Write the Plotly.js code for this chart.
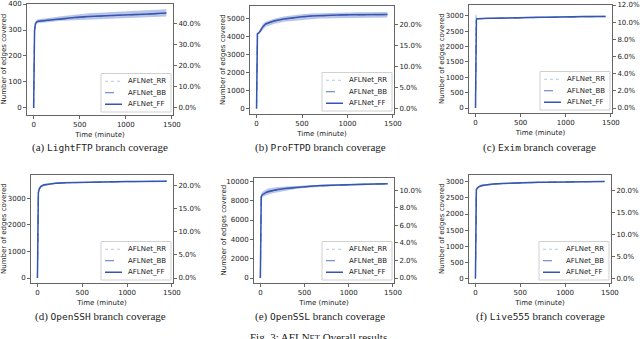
<!DOCTYPE html>
<html>
<head>
<meta charset="utf-8">
<script src="https://cdn.plot.ly/plotly-3.0.1.min.js"></script>
<style>
  html, body { margin: 0; padding: 0; background: #fff; }
  #fig { width: 640px; height: 339px; }
</style>
</head>
<body>
<div id="fig"></div>
<script>
// sample times (minutes) shared by all runs
const minutes = [0, 2, 5, 10, 20, 40, 70, 100, 150, 200, 300, 400, 500, 600, 700, 800, 900, 1000, 1100, 1200, 1300, 1440];

// LightFTP
const lightftpRR = [0, 160, 260, 305, 327, 334, 336, 337, 339, 341, 346, 349, 351, 353, 355, 356, 358, 359, 361, 362, 364, 366];
const lightftpBB = [0, 140, 240, 295, 322, 331, 334, 335, 337, 339, 343, 346, 349, 351, 353, 354, 356, 357, 359, 360, 362, 364];
const lightftpFF = [0, 150, 250, 300, 325, 333, 335, 336, 338, 340, 345, 348, 350, 352, 354, 355, 357, 358, 360, 361, 363, 365];
const lightftpLo = [0, 110, 220, 280, 315, 326, 329, 330, 331, 332, 336, 338, 340, 341, 343, 344, 345, 346, 347, 349, 350, 352];
const lightftpHi = [0, 190, 280, 315, 333, 340, 342, 343, 345, 348, 353, 358, 361, 364, 366, 368, 370, 372, 374, 376, 378, 380];

// ProFTPD
const proftpdRR = [0, 4120, 4160, 4180, 4200, 4330, 4580, 4720, 4820, 4900, 4990, 5060, 5110, 5150, 5175, 5195, 5205, 5215, 5220, 5225, 5228, 5230];
const proftpdBB = [0, 4080, 4140, 4160, 4175, 4280, 4520, 4680, 4790, 4870, 4970, 5040, 5090, 5130, 5160, 5180, 5195, 5205, 5210, 5215, 5218, 5220];
const proftpdFF = [0, 4100, 4150, 4170, 4180, 4300, 4550, 4700, 4800, 4880, 4980, 5050, 5100, 5140, 5170, 5190, 5200, 5210, 5215, 5220, 5220, 5225];
const proftpdLo = [0, 4050, 4100, 4120, 4130, 4200, 4400, 4550, 4650, 4720, 4820, 4880, 4930, 4970, 5000, 5020, 5030, 5040, 5045, 5050, 5055, 5060];
const proftpdHi = [0, 4150, 4200, 4220, 4250, 4450, 4700, 4820, 4920, 5000, 5110, 5190, 5240, 5280, 5300, 5320, 5330, 5340, 5350, 5355, 5360, 5370];

// Exim
const eximRR = [0, 1700, 3050, 2920, 2912, 2916, 2919, 2921, 2923, 2926, 2936, 2941, 2946, 2951, 2956, 2961, 2971, 2976, 2979, 2981, 2984, 2986];
const eximBB = [0, 1400, 2780, 2895, 2905, 2912, 2915, 2918, 2920, 2923, 2932, 2938, 2943, 2948, 2953, 2958, 2968, 2973, 2976, 2978, 2981, 2983];
const eximFF = [0, 1500, 2800, 2900, 2910, 2915, 2918, 2920, 2922, 2925, 2935, 2940, 2945, 2950, 2955, 2960, 2970, 2975, 2978, 2980, 2983, 2985];
const eximLo = [0, 900, 2700, 2880, 2895, 2900, 2903, 2905, 2907, 2910, 2918, 2922, 2926, 2930, 2934, 2938, 2946, 2950, 2953, 2955, 2957, 2960];
const eximHi = [0, 2200, 3150, 2940, 2928, 2932, 2935, 2937, 2939, 2942, 2952, 2958, 2964, 2970, 2976, 2982, 2992, 2998, 3002, 3005, 3008, 3010];

// OpenSSH
const opensshRR = [0, 2100, 2950, 3230, 3370, 3460, 3505, 3525, 3553, 3568, 3583, 3593, 3602, 3607, 3612, 3617, 3622, 3627, 3630, 3634, 3637, 3640];
const opensshBB = [0, 1900, 2850, 3180, 3340, 3440, 3495, 3515, 3545, 3560, 3577, 3588, 3598, 3603, 3608, 3613, 3618, 3622, 3626, 3630, 3633, 3636];
const opensshFF = [0, 2000, 2900, 3200, 3350, 3450, 3500, 3520, 3550, 3565, 3580, 3590, 3600, 3605, 3610, 3615, 3620, 3625, 3628, 3632, 3635, 3638];
const opensshLo = [0, 1600, 2700, 3100, 3280, 3400, 3460, 3485, 3520, 3540, 3558, 3570, 3580, 3586, 3592, 3597, 3602, 3607, 3610, 3614, 3617, 3620];
const opensshHi = [0, 2400, 3100, 3300, 3420, 3500, 3540, 3555, 3580, 3590, 3602, 3610, 3618, 3623, 3628, 3633, 3638, 3643, 3646, 3650, 3653, 3656];

// OpenSSL
const opensslRR = [0, 6700, 8300, 8500, 8640, 8790, 8910, 9010, 9110, 9190, 9300, 9400, 9475, 9535, 9580, 9620, 9650, 9670, 9700, 9728, 9748, 9768];
const opensslBB = [0, 6300, 8100, 8400, 8560, 8720, 8850, 8950, 9050, 9140, 9260, 9360, 9440, 9500, 9555, 9600, 9630, 9655, 9685, 9712, 9735, 9755];
const opensslFF = [0, 6500, 8200, 8450, 8600, 8750, 8880, 8980, 9080, 9160, 9280, 9380, 9460, 9520, 9570, 9610, 9640, 9660, 9690, 9720, 9740, 9760];
const opensslLo = [0, 5500, 7800, 8150, 8300, 8450, 8580, 8680, 8800, 8900, 9080, 9220, 9320, 9400, 9460, 9510, 9560, 9590, 9620, 9650, 9670, 9690];
const opensslHi = [0, 7500, 8500, 8750, 8900, 9050, 9180, 9280, 9360, 9420, 9480, 9540, 9600, 9640, 9680, 9710, 9730, 9750, 9770, 9790, 9810, 9830];

// Live555
const live555RR = [0, 2680, 2740, 2775, 2812, 2858, 2886, 2900, 2919, 2933, 2948, 2960, 2970, 2977, 2982, 2987, 2990, 2993, 2997, 3002, 3007, 3012];
const live555BB = [0, 2620, 2700, 2745, 2790, 2842, 2874, 2890, 2911, 2926, 2942, 2955, 2965, 2972, 2978, 2983, 2986, 2990, 2994, 2998, 3003, 3008];
const live555FF = [0, 2650, 2720, 2760, 2800, 2850, 2880, 2895, 2915, 2930, 2945, 2958, 2968, 2975, 2980, 2985, 2988, 2991, 2995, 3000, 3005, 3010];
const live555Lo = [0, 2550, 2660, 2710, 2760, 2815, 2850, 2868, 2890, 2908, 2926, 2940, 2952, 2960, 2966, 2972, 2976, 2980, 2985, 2990, 2995, 3000];
const live555Hi = [0, 2740, 2780, 2810, 2840, 2885, 2910, 2922, 2940, 2952, 2964, 2975, 2984, 2990, 2994, 2998, 3001, 3004, 3007, 3012, 3016, 3022];

const programs = ["LightFTP", "ProFTPD", "Exim", "OpenSSH", "OpenSSL", "Live555"];
const panelLetters = ["a", "b", "c", "d", "e", "f"];
const seriesNames = ["AFLNet_RR", "AFLNet_BB", "AFLNet_FF"];
// total branches of each target, for the percentage axis on the right
const totalBranches = [808, 23400, 27960, 17360, 90680, 13600];
const edgeTickStep = [100, 1000, 500, 1000, 2000, 500];
const percentTickStep = [10, 5, 2, 5, 2, 5];

const runs = [
  [lightftpRR, lightftpBB, lightftpFF, lightftpLo, lightftpHi],
  [proftpdRR, proftpdBB, proftpdFF, proftpdLo, proftpdHi],
  [eximRR, eximBB, eximFF, eximLo, eximHi],
  [opensshRR, opensshBB, opensshFF, opensshLo, opensshHi],
  [opensslRR, opensslBB, opensslFF, opensslLo, opensslHi],
  [live555RR, live555BB, live555FF, live555Lo, live555Hi]
];

// panel frames in pixels: left, top, right, bottom
const frames = [
  [27, 4, 173, 115], [250, 6, 394, 114], [469, 5, 612, 113],
  [31, 175, 173, 283], [254, 178, 394, 283], [469, 175, 611, 283]
];
const edgeRanges = [[-27, 400], [-300, 5700], [-162, 3356], [-187, 3873], [-518, 10352], [-137, 3208]];
const yTitleX = [4, 223, 442, 4, 223, 442];
const captionPos = [[100, 147], [320, 147], [539, 147], [100, 316], [320, 316], [540, 316]];

const W = 640, H = 339;
const px = x => x / W;
const py = y => 1 - y / H;

const lineStyles = [
  { color: "#b7c5e8", dash: "dot", width: 1 },
  { color: "#5573c4", dash: "dash", width: 1 },
  { color: "#3555b0", dash: "solid", width: 1.5 }
];

const serif = "Liberation Serif, Times New Roman, serif";
const axisFont = { family: "DejaVu Sans", size: 7, color: "#222" };
const axisCommon = {
  showgrid: false, zeroline: false, showline: true, linecolor: "#666", linewidth: 1,
  ticks: "outside", ticklen: 3, tickcolor: "#666", tickfont: axisFont
};

// compact legend box (matplotlib style), sizes in px
const legendW = 70, legendRow = 11.5, legendPad = 2;
const legendH = 2 * legendPad + legendRow * seriesNames.length;

var data = [];
var layout = {
  width: W, height: H,
  margin: { l: 0, r: 0, t: 0, b: 0 },
  paper_bgcolor: "#fff", plot_bgcolor: "#fff",
  font: axisFont,
  showlegend: false,
  annotations: [],
  shapes: []
};

programs.forEach((prog, i) => {
  const xn = i === 0 ? "" : String(i + 1);
  const yl = 2 * i + 1, yr = 2 * i + 2;
  const xId = "x" + xn;
  const ylId = "y" + (yl === 1 ? "" : yl);
  const yrId = "y" + yr;
  const [rr, bb, ff, lo, hi] = runs[i];
  const f = frames[i];

  // shaded spread of the runs
  data.push({
    x: minutes.concat(minutes.slice().reverse()),
    y: hi.concat(lo.slice().reverse()),
    xaxis: xId, yaxis: ylId,
    fill: "toself", fillcolor: "rgba(70,102,192,0.38)",
    line: { width: 0 }, mode: "lines", hoverinfo: "skip"
  });

  [rr, bb, ff].forEach((vals, k) => {
    data.push({
      x: minutes, y: vals,
      xaxis: xId, yaxis: ylId,
      mode: "lines", name: seriesNames[k],
      line: lineStyles[k]
    });
  });

  // keeps the percentage axis alive
  data.push({
    x: [0], y: [0], xaxis: xId, yaxis: yrId,
    mode: "markers", marker: { opacity: 0 }, hoverinfo: "skip"
  });

  layout["xaxis" + xn] = Object.assign({}, axisCommon, {
    domain: [px(f[0]), px(f[2])], anchor: ylId,
    range: [-72, 1512], tick0: 0, dtick: 500, mirror: true,
    title: { text: "Time (minute)", font: axisFont, standoff: 3 }
  });
  layout["yaxis" + (yl === 1 ? "" : yl)] = Object.assign({}, axisCommon, {
    domain: [py(f[3]), py(f[1])], anchor: xId,
    range: edgeRanges[i], tick0: 0, dtick: edgeTickStep[i],
    tickformat: "d", exponentformat: "none"
  });
  layout["yaxis" + yr] = Object.assign({}, axisCommon, {
    overlaying: ylId, side: "right", anchor: xId,
    range: edgeRanges[i].map(v => v / totalBranches[i] * 100),
    tick0: 0, dtick: percentTickStep[i], tickformat: ".1f", ticksuffix: "%"
  });

  // legend: box, line keys and labels in the lower right corner
  const lx1 = f[2] - 2, ly1 = f[3] - 3;
  const lx0 = lx1 - legendW, ly0 = ly1 - legendH;
  layout.shapes.push({
    type: "rect", xref: "paper", yref: "paper", layer: "above",
    x0: px(lx0), x1: px(lx1), y0: py(ly1), y1: py(ly0),
    fillcolor: "rgba(255,255,255,0.85)", line: { color: "#d0d0d0", width: 1 }
  });
  seriesNames.forEach((name, k) => {
    const yk = ly0 + legendPad + legendRow * (k + 0.5);
    layout.shapes.push({
      type: "line", xref: "paper", yref: "paper", layer: "above",
      x0: px(lx0 + 4), x1: px(lx0 + 21), y0: py(yk), y1: py(yk),
      line: lineStyles[k]
    });
    layout.annotations.push({
      text: name, xref: "paper", yref: "paper",
      x: px(lx0 + 25), y: py(yk), xanchor: "left", yanchor: "middle",
      showarrow: false, font: axisFont
    });
  });

  layout.annotations.push({
    text: "Number of edges covered", textangle: -90,
    xref: "paper", yref: "paper",
    x: px(yTitleX[i]), y: py((f[1] + f[3]) / 2),
    xanchor: "center", yanchor: "middle", showarrow: false, font: axisFont
  });

  layout.annotations.push({
    text: "(" + panelLetters[i] + ") <span style=\"font-family:'DejaVu Sans Mono';font-size:9.5px\">" + prog + "</span> branch coverage",
    xref: "paper", yref: "paper",
    x: px(captionPos[i][0]), y: py(captionPos[i][1]),
    xanchor: "center", yanchor: "middle", showarrow: false,
    font: { family: serif, size: 11, color: "#222" }
  });
});

layout.annotations.push({
  text: "Fig. 3: AFLN<span style=\"font-size:8.5px\">ET</span> Overall results",
  xref: "paper", yref: "paper", x: px(318), y: py(337),
  xanchor: "center", yanchor: "middle", showarrow: false,
  font: { family: serif, size: 11, color: "#222" }
});

Plotly.newPlot("fig", data, layout, { staticPlot: true, displayModeBar: false });
</script>
</body>
</html>
